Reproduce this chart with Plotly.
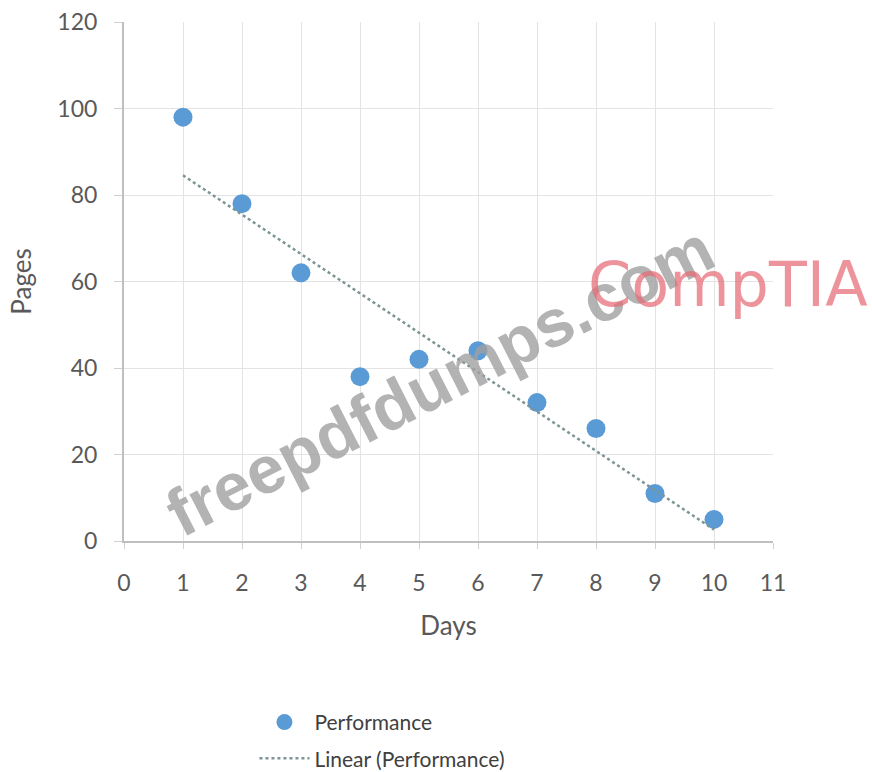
import numpy as np
import plotly.graph_objects as go

days = [1, 2, 3, 4, 5, 6, 7, 8, 9, 10]
pages = [98, 78, 62, 38, 42, 44, 32, 26, 11, 5]
x_ticks = list(range(0, 12))
y_ticks = [0, 20, 40, 60, 80, 100, 120]

# linear trendline (least squares), like Excel's "Linear" trendline
slope, intercept = np.polyfit(days, pages, 1)
trend_x = [days[0], days[-1]]
trend_y = [slope * v + intercept for v in trend_x]

FONT = "Lato, 'Open Sans', sans-serif"
GREY = "#595959"

fig = go.Figure()
fig.add_trace(go.Scatter(
    x=days, y=pages, mode="markers", name="Performance",
    legendgroup="a",
    marker=dict(size=19, color="#5B9BD5", line=dict(width=0)),
))
fig.add_trace(go.Scatter(
    x=trend_x, y=trend_y, mode="lines", name="Linear (Performance)",
    legendgroup="b",
    line=dict(color="#7C9494", width=2.5, dash="dot"),
))

# watermarks
fig.add_annotation(
    text="freepdfdumps.com", xref="paper", yref="paper",
    x=0.486, y=0.31, xanchor="center", yanchor="middle",
    showarrow=False, textangle=-27,
    font=dict(family="Arial, sans-serif", size=67, color="rgba(160,160,160,0.8)", weight="bold"),
)
fig.add_annotation(
    text="CompTIA", xref="paper", yref="paper",
    x=0.93, y=0.495, xanchor="center", yanchor="middle", showarrow=False,
    font=dict(family="'DejaVu Sans', sans-serif", size=62, color="rgba(228,105,118,0.72)"),
)

fig.update_layout(
    width=872, height=772,
    margin=dict(l=124, r=99, t=22, b=231, autoexpand=False),
    paper_bgcolor="white", plot_bgcolor="white",
    font=dict(family=FONT, color=GREY, size=22),
    showlegend=True,
    legend=dict(
        x=0.201, y=-0.31, xanchor="left", yanchor="top",
        font=dict(size=21, color="#404040"),
        tracegroupgap=6, bgcolor="rgba(0,0,0,0)", itemwidth=50,
    ),
    xaxis=dict(
        range=[0, 11], tickvals=x_ticks, ticktext=[str(v) for v in x_ticks],
        showgrid=True, gridcolor="#E3E3E3", gridwidth=1,
        showline=True, linecolor="#BFBFBF", linewidth=2,
        ticks="outside", ticklen=6, tickcolor="#D0D0D0",
        ticklabelstandoff=14, zeroline=False,
        title=dict(text="Days", font=dict(size=26, color=GREY), standoff=22),
        tickfont=dict(size=23, color=GREY),
    ),
    yaxis=dict(
        range=[0, 120], tickvals=y_ticks,
        showgrid=True, gridcolor="#E3E3E3", gridwidth=1,
        showline=True, linecolor="#BFBFBF", linewidth=2,
        ticks="outside", ticklen=8, tickcolor="#D0D0D0",
        ticklabelstandoff=12, zeroline=False,
        title=dict(text="Pages", font=dict(size=26, color=GREY), standoff=18),
        tickfont=dict(size=23, color=GREY),
    ),
)

fig.write_html("out.html")
